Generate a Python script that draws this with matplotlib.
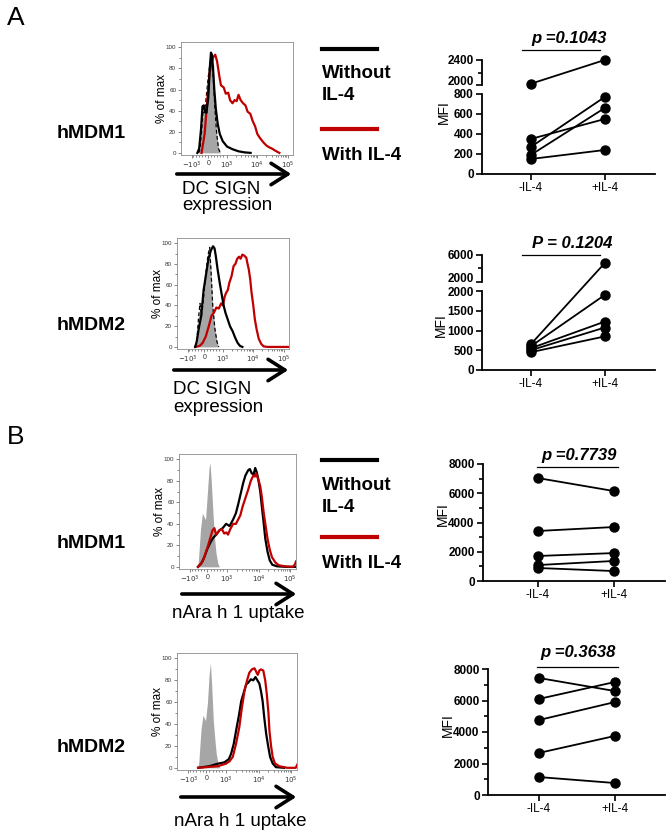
import matplotlib
matplotlib.use('Agg')
import matplotlib.pyplot as plt
from matplotlib.lines import Line2D
import numpy as np

plt.rcParams['font.family'] = ['Liberation Sans', 'DejaVu Sans']

# ---------------- data ----------------
# flow histograms: x in display units (0 = 0, 0.62 = 10^3, 1.62 = 10^4, 2.62 = 10^5), y in % of max
hist_ticks = [-0.55, 0.0, 0.62, 1.62, 2.62]
hist_ticklabels = [r'$-10^3$', '0', r'$10^3$', r'$10^4$', r'$10^5$']

a1_gray_x = [-0.32, -0.28, -0.22, -0.17, -0.12, -0.06, 0.0, 0.06, 0.12, 0.17, 0.22, 0.28, 0.34, 0.40]
a1_gray_y = [0, 2, 20, 40, 38, 55, 72, 85, 91, 70, 42, 18, 4, 0]
a1_black_x = [-0.36, -0.3, -0.24, -0.19, -0.15, -0.11, -0.06, 0.0, 0.05, 0.09, 0.12, 0.16, 0.2, 0.25,
              0.31, 0.38, 0.48, 0.62, 0.8, 1.0, 1.2, 1.4]
a1_black_y = [0, 4, 22, 44, 45, 40, 38, 52, 80, 95, 93, 80, 60, 42, 28, 18, 11, 6, 3.5, 1.5, 0.5, 0]
a1_red_x = [-0.22, -0.12, -0.03, 0.04, 0.15, 0.23, 0.29, 0.37, 0.42, 0.51, 0.58, 0.66, 0.72, 0.8, 0.87,
            0.94, 1.0, 1.07, 1.15, 1.23, 1.3, 1.39, 1.47, 1.55, 1.62, 1.71, 1.82, 1.92, 2.0, 2.11, 2.22, 2.35]
a1_red_y = [0, 18, 50, 75, 90, 93, 87, 72, 64, 62, 56, 57, 50, 47, 50, 49, 55, 50, 47, 45, 39, 37, 30,
            25, 18, 14, 10, 7, 5.5, 4, 2, 0]

a2_gray_x = [-0.3, -0.25, -0.19, -0.14, -0.09, -0.03, 0.05, 0.12, 0.18, 0.23, 0.28, 0.35, 0.42, 0.48]
a2_gray_y = [0, 3, 28, 42, 30, 45, 70, 88, 96, 70, 40, 18, 5, 0]
a2_black_x = [-0.3, -0.25, -0.18, -0.1, -0.02, 0.06, 0.14, 0.22, 0.29, 0.34, 0.38, 0.44, 0.51, 0.58,
              0.64, 0.7, 0.77, 0.85, 0.94, 1.02, 1.1, 1.18, 1.26]
a2_black_y = [0, 5, 18, 30, 55, 70, 85, 93, 97, 95, 88, 75, 62, 50, 40, 33, 27, 20, 15, 9, 4, 1, 0]
a2_red_x = [-0.3, -0.15, -0.05, 0.05, 0.15, 0.24, 0.32, 0.4, 0.48, 0.56, 0.62, 0.67, 0.72, 0.78, 0.83,
            0.9, 0.97, 1.03, 1.09, 1.15, 1.2, 1.26, 1.32, 1.39, 1.43, 1.47, 1.52, 1.56, 1.62, 1.67,
            1.73, 1.8, 1.88, 1.96, 2.1, 2.8]
a2_red_y = [0, 1, 4, 10, 20, 30, 33, 38, 37, 42, 40, 48, 52, 55, 62, 68, 78, 80, 85, 87, 85, 89, 88,
            86, 80, 75, 65, 53, 40, 27, 17, 8, 3, 0.5, 0, 0]

b1_gray_x = [-0.33, -0.29, -0.22, -0.16, -0.1, -0.06, 0.0, 0.05, 0.08, 0.12, 0.18, 0.23, 0.27, 0.33, 0.38]
b1_gray_y = [0, 4, 35, 50, 46, 44, 70, 92, 97, 80, 47, 25, 13, 3, 0]
b1_black_x = [-0.3, -0.2, -0.1, 0.0, 0.1, 0.18, 0.28, 0.38, 0.48, 0.59, 0.7, 0.81, 0.9, 0.97, 1.05,
              1.13, 1.2, 1.29, 1.34, 1.4, 1.46, 1.51, 1.56, 1.61, 1.67, 1.72, 1.78, 1.83, 1.9, 1.97,
              2.05, 2.2, 2.5, 2.8]
b1_black_y = [0, 3, 9, 17, 23, 27, 30, 34, 36, 40, 38, 44, 50, 58, 68, 78, 85, 90, 91, 87, 86, 92, 88,
              81, 70, 56, 40, 26, 14, 6, 2, 0.5, 0, 0]
b1_red_x = [-0.3, -0.15, 0.0, 0.1, 0.16, 0.22, 0.27, 0.32, 0.38, 0.46, 0.53, 0.6, 0.65, 0.72, 0.81,
            0.9, 0.97, 1.04, 1.11, 1.2, 1.29, 1.37, 1.45, 1.5, 1.54, 1.6, 1.67, 1.72, 1.78, 1.84, 1.9,
            1.97, 2.04, 2.15, 2.26, 2.45, 2.7, 2.76, 2.8]
b1_red_y = [0, 5, 18, 28, 34, 36, 30, 32, 34, 35, 31, 32, 30, 35, 40, 40, 44, 48, 56, 64, 72, 80, 85,
            84, 87, 82, 75, 65, 50, 38, 26, 16, 9, 4, 1.5, 0.5, 0, 2, 5]

b2_gray_x = [-0.27, -0.23, -0.16, -0.1, -0.05, -0.02, 0.04, 0.09, 0.13, 0.17, 0.22, 0.27, 0.31, 0.37, 0.43]
b2_gray_y = [0, 4, 35, 48, 45, 43, 60, 85, 96, 75, 43, 25, 13, 3, 0]
b2_black_x = [-0.25, 0.1, 0.36, 0.56, 0.7, 0.77, 0.85, 0.94, 1.01, 1.08, 1.15, 1.23, 1.3, 1.38, 1.45,
              1.52, 1.58, 1.64, 1.69, 1.74, 1.79, 1.85, 1.91, 1.97, 2.05, 2.15, 2.4]
b2_black_y = [0, 1.5, 3.8, 5, 8, 13, 22, 37, 48, 61, 68, 76, 78, 81, 80, 83, 80, 77, 70, 61, 46, 31,
              20, 10, 4, 0.6, 0]
b2_red_x = [-0.25, 0.36, 0.61, 0.72, 0.82, 0.92, 1.02, 1.1, 1.18, 1.26, 1.33, 1.41, 1.49, 1.54, 1.59,
            1.64, 1.69, 1.76, 1.82, 1.87, 1.92, 1.95, 2.0, 2.05, 2.12, 2.25, 2.5, 2.76, 2.81]
b2_red_y = [0, 1.5, 3.8, 6, 10, 22, 37, 55, 70, 80, 87, 90, 91, 88, 85, 89, 90, 89, 80, 67, 50, 34,
            20, 10, 4, 1.5, 0, 0, 3]

# MFI paired data
groups = ['-IL-4', '+IL-4']
a1_minus = [2020, 350, 270, 190, 150]
a1_plus = [2400, 550, 770, 660, 240]
a2_minus = [650, 600, 550, 500, 450]
a2_plus = [4800, 1900, 1225, 1075, 850]
b1_minus = [7040, 3420, 1710, 1090, 890]
b1_plus = [6150, 3690, 1910, 1370, 680]
b2_minus = [7430, 6100, 4760, 2670, 1140]
b2_plus = [6600, 7175, 5900, 3750, 760]
p_texts = ['p =0.1043', 'P = 0.1204', 'p =0.7739', 'p =0.3638']

# ---------------- figure ----------------
W, H = 667, 831
fig = plt.figure(figsize=(W / 100, H / 100), dpi=100)
RED = '#c00000'
GRAY = '#a6a6a6'
TXT = 13.5


def rect(l, t, r, b):
    return [l / W, 1 - b / H, (r - l) / W, (b - t) / H]


def fx(px):
    return px / W


def fy(py):
    return 1 - py / H


def histogram(box, gray, curves, dashed, ylab_x):
    ax = fig.add_axes(rect(*box))
    gx, gy = gray
    ax.fill_between(gx, gy, color=GRAY, lw=0, zorder=1)
    if dashed:
        ax.plot(gx, gy, color='black', lw=0.9, ls=(0, (3, 2)), zorder=2)
    for (x, y), c in curves:
        ax.plot(x, y, color=c, lw=1.6, zorder=3)
    ax.set_xlim(-0.9, 2.8)
    ax.set_ylim(-2, 105)
    ax.set_xticks(hist_ticks)
    ax.set_xticklabels(hist_ticklabels, fontsize=5, color='#333333')
    minors = [t + np.log10(k) for t in (0.62, 1.62) for k in range(2, 10)]
    minors += list(np.arange(-0.5, 0.6, 0.1))
    ax.set_xticks(minors, minor=True)
    ax.set_yticks([0, 20, 40, 60, 80, 100])
    ax.set_yticklabels(['0', '20', '40', '60', '80', '100'], fontsize=4.5, color='#333333')
    ax.set_yticks(np.arange(10, 100, 10), minor=True)
    ax.tick_params(which='both', length=2, width=0.5, color='#555555', pad=1.5)
    ax.tick_params(which='minor', length=1.2)
    for s in ax.spines.values():
        s.set_color('#8c8c8c')
        s.set_linewidth(0.6)
    cy = (box[1] + box[3]) / 2
    fig.text(fx(ylab_x), fy(cy), '% of max', rotation=90, fontsize=8.5, ha='center', va='center')
    return ax


def arrow(x0, x1, y):
    fig.add_artist(matplotlib.patches.FancyArrowPatch(
        (fx(x0), fy(y)), (fx(x1), fy(y)), transform=fig.transFigure,
        arrowstyle='->,head_length=0.55,head_width=0.35', mutation_scale=22, lw=2.6, color='black'))


def style_mfi(ax, show_bottom=True):
    ax.spines['top'].set_visible(False)
    ax.spines['right'].set_visible(False)
    ax.spines['left'].set_linewidth(1.3)
    ax.spines['bottom'].set_linewidth(1.3)
    ax.tick_params(which='both', direction='out', width=1.2, length=4, labelsize=8.5, pad=2)
    ax.tick_params(which='minor', length=3)
    for lab in ax.get_yticklabels():
        lab.set_fontweight('bold')
    if not show_bottom:
        ax.spines['bottom'].set_visible(False)
        ax.tick_params(axis='x', bottom=False, labelbottom=False)


def mfi_panel(low_box, low_lim, low_ticks, low_minor, xlim, minus, plus,
              up_box=None, up_lim=None, up_ticks=None, up_minor=None,
              p_text='', p_y=0, p_line=(0, 0, 0), p_cx=0, mfi_xy=(0, 0)):
    lo = fig.add_axes(rect(*low_box))
    lo.set_xlim(*xlim)
    lo.set_ylim(*low_lim)
    lo.set_yticks(low_ticks)
    lo.set_yticklabels([str(t) for t in low_ticks])
    if low_minor is not None:
        lo.set_yticks(low_minor, minor=True)
    lo.set_xticks([0, 1])
    lo.set_xticklabels(groups, fontsize=11.5)
    style_mfi(lo)
    lo.patch.set_alpha(0)
    up = None
    if up_box is not None:
        up = fig.add_axes(rect(*up_box))
        up.set_xlim(*xlim)
        up.set_ylim(*up_lim)
        up.set_yticks(up_ticks)
        up.set_yticklabels([str(t) for t in up_ticks])
        up.set_yticks(up_minor, minor=True)
        style_mfi(up, show_bottom=False)
        up.patch.set_alpha(0)
        # keep the two labels at the break apart
        up.get_yticklabels()[0].set_verticalalignment('baseline')

    def to_fig(x, v):
        ax = up if (up is not None and v > low_lim[1]) else lo
        return fig.transFigure.inverted().transform(ax.transData.transform((x, v)))

    for m, p in zip(minus, plus):
        a = to_fig(0, m)
        b = to_fig(1, p)
        fig.add_artist(Line2D([a[0], b[0]], [a[1], b[1]], transform=fig.transFigure,
                              color='black', lw=1.3, marker='o', ms=6.5, zorder=5))
    fig.text(fx(p_cx), fy(p_y), p_text, fontsize=12, fontweight='bold', fontstyle='italic',
             ha='center', va='center')
    fig.add_artist(Line2D([fx(p_line[0]), fx(p_line[1])], [fy(p_line[2]), fy(p_line[2])],
                          transform=fig.transFigure, color='black', lw=0.9))
    fig.text(fx(mfi_xy[0]), fy(mfi_xy[1]), 'MFI', rotation=90, fontsize=10,
             ha='center', va='center')


# ---- panel letters & row labels ----
fig.text(fx(7), fy(18), 'A', fontsize=19, ha='left', va='center')
fig.text(fx(7), fy(437), 'B', fontsize=19, ha='left', va='center')
for y, t in [(133, 'hMDM1'), (326, 'hMDM2'), (543, 'hMDM1'), (748, 'hMDM2')]:
    fig.text(fx(57), fy(y), t, fontsize=14, fontweight='bold', ha='left', va='center')

# ---- legends ----
for y_black, y_red in [(49, 129), (460, 537)]:
    fig.add_artist(Line2D([fx(322), fx(377)], [fy(y_black)] * 2, transform=fig.transFigure,
                          color='black', lw=3))
    fig.add_artist(Line2D([fx(322), fx(377)], [fy(y_red)] * 2, transform=fig.transFigure,
                          color=RED, lw=3))
    fig.text(fx(322), fy(y_black + 25), 'Without', fontsize=13.5, fontweight='bold', va='center')
    fig.text(fx(322), fy(y_black + 47), 'IL-4', fontsize=13.5, fontweight='bold', va='center')
    fig.text(fx(322), fy(y_red + 27), 'With IL-4', fontsize=13.5, fontweight='bold', va='center')

# ---- histograms ----
histogram((181, 42, 293, 155), (a1_gray_x, a1_gray_y),
          [((a1_red_x, a1_red_y), RED), ((a1_black_x, a1_black_y), 'black')], True, 162)
arrow(174, 294, 174)
fig.text(fx(182), fy(189), 'DC SIGN', fontsize=TXT, va='center')
fig.text(fx(182), fy(205), 'expression', fontsize=TXT, va='center')

histogram((177, 238, 289, 349), (a2_gray_x, a2_gray_y),
          [((a2_red_x, a2_red_y), RED), ((a2_black_x, a2_black_y), 'black')], True, 158)
arrow(171, 291, 370)
fig.text(fx(173), fy(390), 'DC SIGN', fontsize=TXT, va='center')
fig.text(fx(173), fy(407), 'expression', fontsize=TXT, va='center')

histogram((179, 454, 296, 569), (b1_gray_x, b1_gray_y),
          [((b1_black_x, b1_black_y), 'black'), ((b1_red_x, b1_red_y), RED)], False, 160)
arrow(179, 299, 594)
fig.text(fx(172), fy(613), 'nAra h 1 uptake', fontsize=TXT, va='center')

histogram((177, 653, 297, 770), (b2_gray_x, b2_gray_y),
          [((b2_black_x, b2_black_y), 'black'), ((b2_red_x, b2_red_y), RED)], False, 158)
arrow(178, 299, 797)
fig.text(fx(174), fy(822), 'nAra h 1 uptake', fontsize=TXT, va='center')

# ---- MFI panels ----
mfi_panel((482, 94, 655, 174), (0, 800), [0, 200, 400, 600, 800], None, (-0.66, 1.68),
          a1_minus, a1_plus,
          up_box=(482, 60, 655, 85), up_lim=(2000, 2400), up_ticks=[2000, 2400], up_minor=[2200],
          p_text=p_texts[0], p_y=38, p_line=(522, 600, 50), p_cx=569, mfi_xy=(444, 112))

mfi_panel((482, 291, 655, 370), (0, 2000), [0, 500, 1000, 1500, 2000], None, (-0.66, 1.68),
          a2_minus, a2_plus,
          up_box=(482, 255, 655, 282), up_lim=(2000, 6000), up_ticks=[2000, 6000], up_minor=[4000],
          p_text=p_texts[1], p_y=243, p_line=(522, 600, 255), p_cx=572, mfi_xy=(441, 325))

mfi_panel((483, 464, 665, 581), (0, 8000), [0, 2000, 4000, 6000, 8000], [1000, 3000, 5000, 7000],
          (-0.72, 1.67), b1_minus, b1_plus,
          p_text=p_texts[2], p_y=455, p_line=(537, 618, 467), p_cx=579, mfi_xy=(443, 514))

mfi_panel((488, 669, 665, 795), (0, 8000), [0, 2000, 4000, 6000, 8000], [1000, 3000, 5000, 7000],
          (-0.67, 1.66), b2_minus, b2_plus,
          p_text=p_texts[3], p_y=653, p_line=(537, 618, 667), p_cx=578, mfi_xy=(448, 725))

fig.savefig('out.png', dpi=100)
